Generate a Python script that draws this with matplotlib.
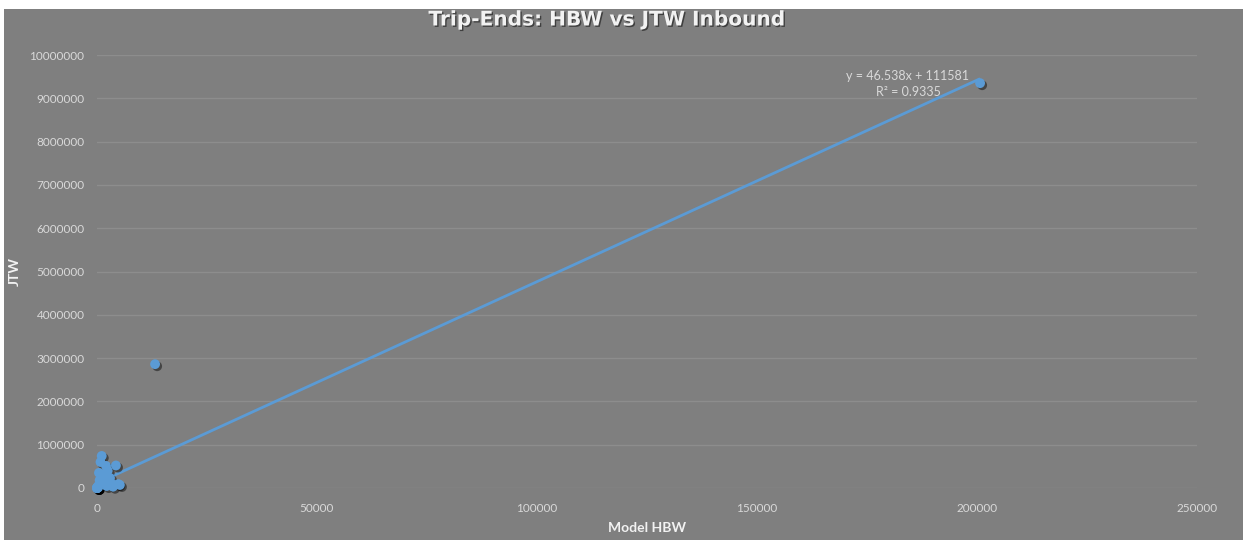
import numpy as np
import matplotlib
matplotlib.use("Agg")
import matplotlib.pyplot as plt
import matplotlib.patheffects as pe
from matplotlib.patches import Rectangle

# Model HBW vs JTW trip-ends
model_hbw = [200700, 13200,
             1070, 800, 2050, 4300, 450, 2430, 1430, 2950, 4840, 300, 2200,
             3640, 900, 5200, 600, 1500, 2600, 3300, 150, 0, 100, 250, 50, 400,
             0, 0, 30, 80]
jtw = [9350000, 2860000,
       740000, 600000, 510000, 520000, 350000, 400000, 260000, 230000, 90000,
       46000, 46000, 30000, 140000, 70000, 180000, 120000, 150000, 100000,
       15000, 0, 5000, 10000, 20000, 60000,
       0, 2000, 0, 3000]

# Linear trendline from the chart
slope = 46.538
intercept = 111581
r2 = 0.9335

x_ticks = [0, 50000, 100000, 150000, 200000, 250000]
y_ticks = list(range(0, 10000001, 1000000))

bg = "#7f7f7f"
grid = "#8d8d8d"
txt = "#d9d9d9"
blue = "#5b9bd5"

plt.rcParams['font.family'] = ['Lato', 'DejaVu Sans']

fig = plt.figure(figsize=(12.43, 5.4), dpi=100, facecolor="white")
fig.patches.append(Rectangle((4 / 1243, 0), 1, 1 - 9 / 540, transform=fig.transFigure,
                             facecolor=bg, edgecolor="none", zorder=-10))

ax = fig.add_axes([97 / 1243, 1 - 488 / 540, 1100 / 1243, 433 / 540])
ax.set_facecolor(bg)
ax.patch.set_alpha(0)
ax.set_xlim(0, 250000)
ax.set_ylim(0, 10000000)
ax.set_xticks(x_ticks)
ax.set_yticks(y_ticks)
ax.set_xticklabels([str(v) for v in x_ticks])
ax.set_yticklabels([str(v) for v in y_ticks])
ax.tick_params(length=0, colors=txt, labelsize=8.5)
ax.tick_params(axis="x", pad=11)
ax.tick_params(axis="y", pad=9)
for s in ax.spines.values():
    s.set_visible(False)
ax.grid(axis="y", color=grid, linewidth=1)
ax.set_axisbelow(True)

# trendline
xs = np.array([min(model_hbw), max(model_hbw)])
ax.plot(xs, slope * xs + intercept, color=blue, linewidth=2, zorder=2,
        solid_capstyle="butt")

sc = ax.scatter(model_hbw, jtw, s=50, color=blue, edgecolors="none", zorder=3,
                clip_on=False)
sc.set_path_effects([pe.SimplePatchShadow(offset=(1.5, -1.5), shadow_rgbFace="black",
                                          alpha=0.45), pe.Normal()])

ax.text(908 / 1243, 1 - 76 / 540, "y = 46.538x + 111581", transform=fig.transFigure,
        ha="center", va="center", color=txt, fontsize=9)
ax.text(908 / 1243, 1 - 92 / 540, "R² = %.4f" % r2, transform=fig.transFigure,
        ha="center", va="center", color=txt, fontsize=9)

fig.text(607 / 1243, 1 - 20 / 540, "Trip-Ends: HBW vs JTW Inbound", ha="center",
         va="center", color="#f2f2f2", fontsize=14.5, fontweight="bold",
         family=["DejaVu Sans"],
         path_effects=[pe.withSimplePatchShadow(offset=(1, -1), shadow_rgbFace="black",
                                                alpha=0.5)])
fig.text(647 / 1243, 1 - 528 / 540, "Model HBW", ha="center", va="center",
         color="#f2f2f2", fontsize=10, fontweight="bold")
fig.text(15 / 1243, 1 - 271 / 540, "JTW", ha="center", va="center", rotation=90,
         color="#f2f2f2", fontsize=10, fontweight="bold")

fig.savefig("out.png", dpi=100, facecolor=fig.get_facecolor())
